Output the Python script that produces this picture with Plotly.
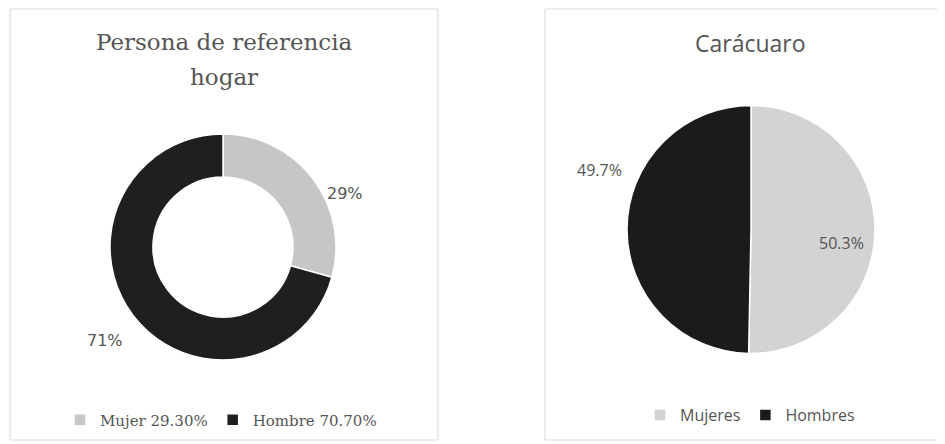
import plotly.graph_objects as go

W, H = 945, 444
OFF = 8  # page body margin in the browser

# ---- data ----
left_title_lines = ["Persona de referencia", "hogar"]
left_labels = ["Mujer 29.30%", "Hombre 70.70%"]
left_values = [29.3, 70.7]
left_colors = ["#c6c6c6", "#1f1f1f"]

right_title = "Carácuaro"
right_labels = ["Mujeres", "Hombres"]
right_values = [50.3, 49.7]
right_colors = ["#d3d3d3", "#1b1b1b"]


def px_x(x):
    return (x - OFF) / W


def px_y(y):
    return 1 - (y - OFF) / H


fig = go.Figure()

fig.add_trace(go.Pie(
    labels=left_labels, values=left_values, hole=0.62,
    sort=False, direction="clockwise", rotation=0,
    marker=dict(colors=left_colors, line=dict(color="white", width=1.5)),
    textinfo="none", hoverinfo="label+percent",
    domain=dict(x=[px_x(110), px_x(336)], y=[px_y(360), px_y(134)]),
    legend="legend", showlegend=True,
))

fig.add_trace(go.Pie(
    labels=right_labels, values=right_values,
    sort=False, direction="clockwise", rotation=0,
    marker=dict(colors=right_colors, line=dict(color="white", width=1.5)),
    textinfo="none", hoverinfo="label+percent",
    domain=dict(x=[px_x(627), px_x(875)], y=[px_y(353.5), px_y(105.5)]),
    legend="legend2", showlegend=True,
))

label_color = "#555555"
annotations = []
for line, cy in zip(left_title_lines, [42, 77]):
    annotations.append(dict(text=line, x=px_x(224), y=px_y(cy), xref="paper", yref="paper",
                            xanchor="center", yanchor="middle", showarrow=False,
                            font=dict(family="DejaVu Serif", size=23, color=label_color)))
annotations.append(dict(text=right_title, x=px_x(750), y=px_y(43), xref="paper", yref="paper",
                        xanchor="center", yanchor="middle", showarrow=False,
                        font=dict(family="Open Sans", size=23, color=label_color)))

left_label_pos = [(345, 193), (105, 340)]
for v, (lx, ly) in zip(left_values, left_label_pos):
    annotations.append(dict(text=f"{round(v)}%", x=px_x(lx), y=px_y(ly),
                            xref="paper", yref="paper", showarrow=False,
                            xanchor="center", yanchor="middle",
                            font=dict(family="DejaVu Sans", size=16, color=label_color)))

right_label_pos = [(841, 243), (599, 170)]
for v, (lx, ly) in zip(right_values, right_label_pos):
    annotations.append(dict(text=f"{v:.1f}%", x=px_x(lx), y=px_y(ly),
                            xref="paper", yref="paper", showarrow=False,
                            xanchor="center", yanchor="middle",
                            font=dict(family="Open Sans", size=16, color=label_color)))

shapes = [
    dict(type="rect", xref="paper", yref="paper",
         x0=px_x(10), x1=px_x(438), y0=px_y(440), y1=px_y(9),
         line=dict(color="#d9d9d9", width=1), fillcolor="rgba(0,0,0,0)", layer="below"),
    dict(type="rect", xref="paper", yref="paper",
         x0=px_x(545), x1=px_x(990), y0=px_y(440), y1=px_y(9),
         line=dict(color="#d9d9d9", width=1), fillcolor="rgba(0,0,0,0)", layer="below"),
]

fig.update_layout(
    width=W, height=H,
    margin=dict(l=0, r=0, t=0, b=0),
    paper_bgcolor="white", plot_bgcolor="white",
    annotations=annotations, shapes=shapes,
    legend=dict(orientation="h", x=px_x(221), y=px_y(420), xanchor="center", yanchor="middle",
                font=dict(family="DejaVu Serif", size=15, color=label_color),
                itemwidth=30, bgcolor="rgba(0,0,0,0)"),
    legend2=dict(orientation="h", x=px_x(750), y=px_y(415), xanchor="center", yanchor="middle",
                 font=dict(family="Open Sans", size=16, color=label_color),
                 itemwidth=30, bgcolor="rgba(0,0,0,0)"),
)

fig.write_html("out.html")
